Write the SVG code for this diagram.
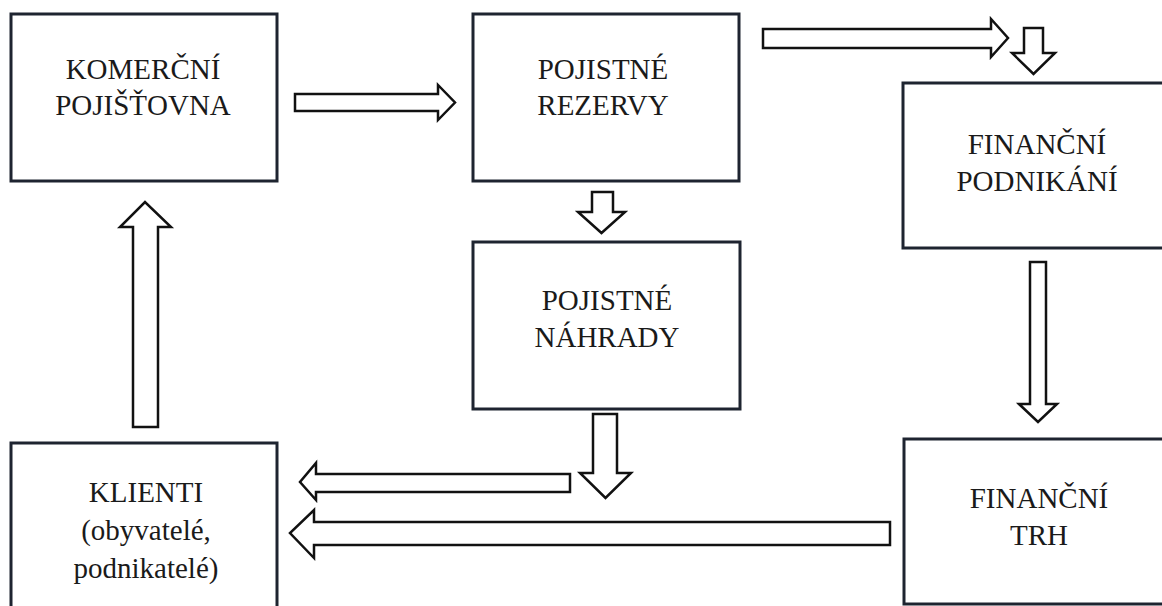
<svg xmlns="http://www.w3.org/2000/svg" width="1162" height="606" viewBox="0 0 1162 606">
<style>
.box{fill:#ffffff;stroke:#1e2430;stroke-width:3}
.lbl{font-family:'Liberation Serif','Tinos','Times New Roman','DejaVu Serif','Noto Serif',serif;font-size:29px;fill:#1a1a1a;text-anchor:middle}
.arr{fill:#ffffff;stroke:#111111;stroke-width:2.5;stroke-linejoin:miter}
</style>
<rect width="1162" height="606" fill="#ffffff"/>
<g id="connectors">
<polygon class="arr" points="295,94 438,94 438,85 455,102.5 438,120 438,111 295,111"/>
<polygon class="arr" points="763,29 991,29 991,19 1008,38 991,57 991,48 763,48"/>
<polygon class="arr" points="1024,28 1043,28 1043,53 1055,53 1033.5,74 1012,53 1024,53"/>
<polygon class="arr" points="592,192 613,192 613,212 625,212 601.5,233 578,212 592,212"/>
<polygon class="arr" points="133,427 158,427 158,227 171,227 145,202 120,227 133,227"/>
<polygon class="arr" points="1030,262 1046,262 1046,404 1057,404 1038,422 1019,404 1030,404"/>
<polygon class="arr" points="593,414 617,414 617,473 631,473 605.5,498 580,473 593,473"/>
<polygon class="arr" points="570,474 570,492 316,492 316,500 300,482 316,463 316,474"/>
<polygon class="arr" points="890,522 890,545 314,545 314,558 290,533 314,510 314,522"/>
</g>
<g id="komercni-pojistovna">
<rect class="box" x="11" y="14" width="266" height="167"/>
<text class="lbl" x="143" y="79">KOMERČNÍ</text>
<text class="lbl" x="143" y="115">POJIŠŤOVNA</text>
</g>
<g id="pojistne-rezervy">
<rect class="box" x="473" y="14" width="266" height="167"/>
<text class="lbl" x="603" y="79">POJISTNÉ</text>
<text class="lbl" x="603" y="115">REZERVY</text>
</g>
<g id="financni-podnikani">
<rect class="box" x="903" y="83" width="272" height="165"/>
<text class="lbl" x="1037" y="154">FINANČNÍ</text>
<text class="lbl" x="1037" y="191">PODNIKÁNÍ</text>
</g>
<g id="pojistne-nahrady">
<rect class="box" x="473" y="242" width="267" height="167"/>
<text class="lbl" x="607" y="310">POJISTNÉ</text>
<text class="lbl" x="607" y="347">NÁHRADY</text>
</g>
<g id="klienti">
<rect class="box" x="11" y="443" width="266" height="170"/>
<text class="lbl" x="146" y="502">KLIENTI</text>
<text class="lbl" x="146" y="540">(obyvatelé,</text>
<text class="lbl" x="146" y="578">podnikatelé)</text>
</g>
<g id="financni-trh">
<rect class="box" x="904" y="439" width="272" height="165"/>
<text class="lbl" x="1039" y="508">FINANČNÍ</text>
<text class="lbl" x="1039" y="545">TRH</text>
</g>
</svg>
